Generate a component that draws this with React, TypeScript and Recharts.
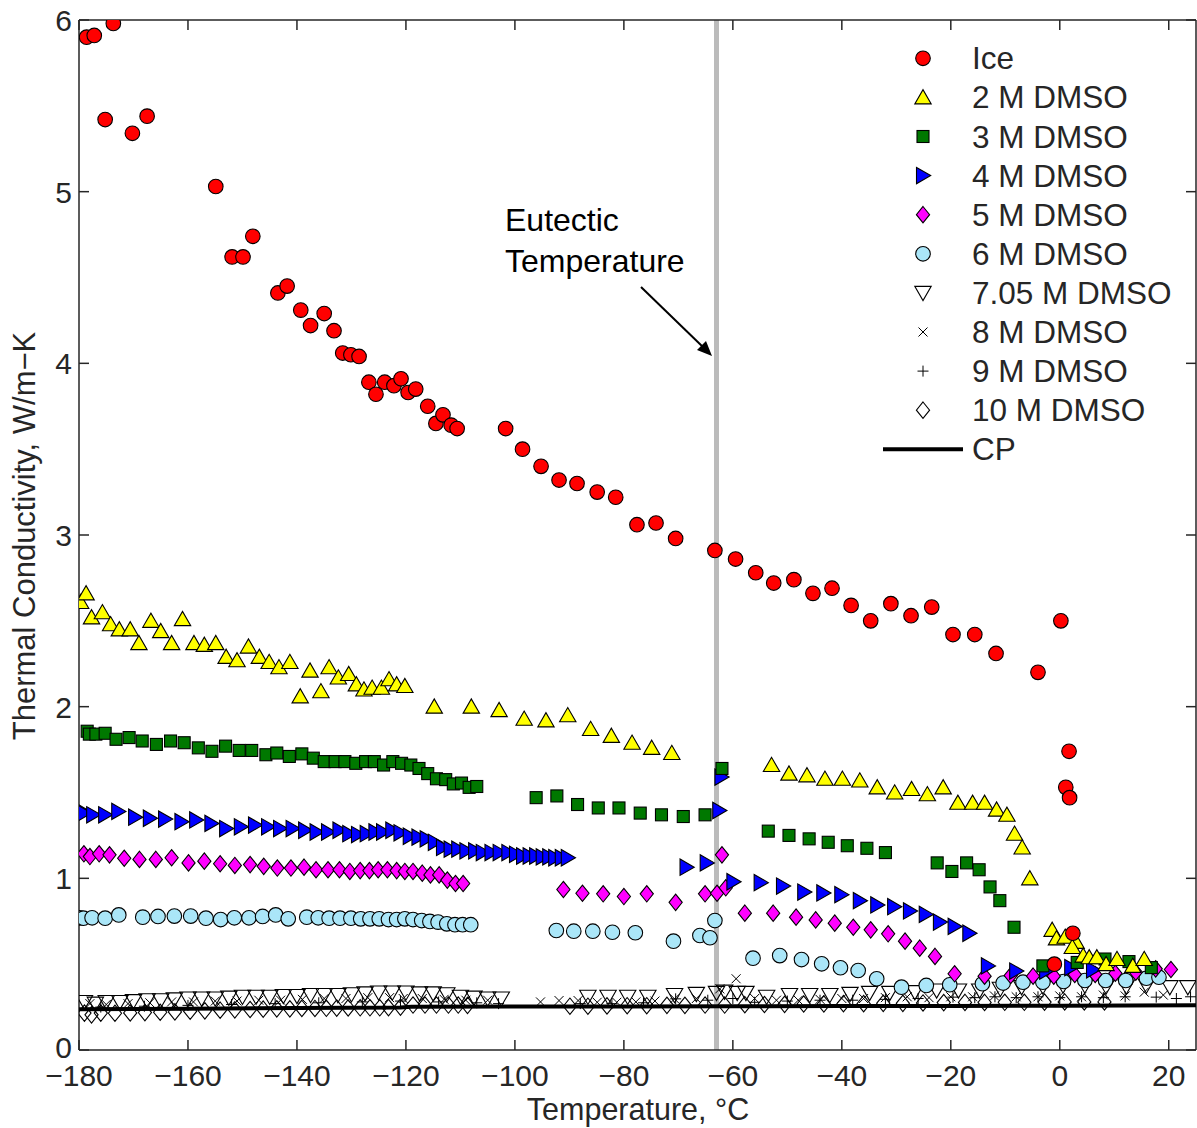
import React from 'react';
import { ScatterChart, Scatter, XAxis, YAxis, ReferenceLine } from 'recharts';

const FONT = '"Liberation Sans", Arial, Helvetica, sans-serif';
const TXT = '#262626';

// ---------- data ----------
const iceT = [-178.6, -177.2, -173.7, -175.2, -170.2, -167.5, -154.9, -151.9, -149.9, -148.1, -143.5, -141.8, -139.3, -137.5, -135.0, -133.2, -131.6, -130.1, -128.6, -126.8, -125.5, -123.9, -122.2, -120.9, -119.6, -118.2, -116.0, -114.5, -113.2, -111.7, -110.6, -101.7, -98.6, -95.2, -91.9, -88.6, -84.9, -81.5, -77.6, -74.1, -70.5, -63.3, -59.5, -55.8, -52.5, -48.8, -45.3, -41.8, -38.3, -34.7, -31.0, -27.3, -23.5, -19.6, -15.6, -11.7, -4.0, 0.2, 1.7, 1.1, 1.8, 2.4, -1.0];
const iceK = [5.90, 5.91, 5.98, 5.42, 5.34, 5.44, 5.03, 4.62, 4.62, 4.74, 4.41, 4.45, 4.31, 4.22, 4.29, 4.19, 4.06, 4.05, 4.04, 3.89, 3.82, 3.89, 3.87, 3.91, 3.83, 3.85, 3.75, 3.65, 3.70, 3.64, 3.62, 3.62, 3.50, 3.40, 3.32, 3.30, 3.25, 3.22, 3.06, 3.07, 2.98, 2.91, 2.86, 2.78, 2.72, 2.74, 2.66, 2.69, 2.59, 2.50, 2.60, 2.53, 2.58, 2.42, 2.42, 2.31, 2.20, 2.50, 1.74, 1.53, 1.47, 0.68, 0.50];

const m2T = [-179.7, -178.7, -177.7, -175.7, -174.2, -172.6, -170.6, -169.0, -166.8, -165.0, -163.0, -161.0, -158.9, -157.0, -154.9, -153.0, -151.0, -148.9, -146.9, -145.1, -143.3, -141.3, -139.4, -137.6, -135.6, -134.1, -132.4, -130.5, -129.1, -127.7, -126.2, -124.5, -123.1, -121.7, -120.2, -114.8, -108.0, -102.9, -98.3, -94.3, -90.3, -86.1, -82.3, -78.5, -74.9, -71.2, -52.9, -49.7, -46.4, -43.1, -39.9, -36.7, -33.5, -30.3, -27.2, -24.3, -21.4, -18.7, -16.0, -13.8, -11.6, -9.7, -8.3, -6.9, -5.5, -1.4, -0.6, 1.0, 3.0, 2.3, 4.3, 5.4, 6.8, 8.5, 10.5, 13.4, 15.5];
const m2K = [2.61, 2.66, 2.52, 2.55, 2.48, 2.45, 2.45, 2.37, 2.50, 2.44, 2.37, 2.51, 2.37, 2.36, 2.37, 2.29, 2.27, 2.35, 2.29, 2.26, 2.23, 2.26, 2.06, 2.21, 2.09, 2.23, 2.17, 2.19, 2.13, 2.10, 2.11, 2.11, 2.16, 2.13, 2.12, 2.00, 2.00, 1.98, 1.93, 1.92, 1.95, 1.87, 1.83, 1.79, 1.76, 1.73, 1.66, 1.61, 1.60, 1.58, 1.58, 1.57, 1.53, 1.50, 1.52, 1.49, 1.53, 1.44, 1.44, 1.44, 1.40, 1.37, 1.26, 1.18, 1.00, 0.70, 0.65, 0.66, 0.63, 0.60, 0.55, 0.54, 0.54, 0.50, 0.53, 0.49, 0.53];

const m3T = [-178.5, -178.1, -176.9, -175.2, -173.2, -170.8, -168.4, -165.8, -163.2, -160.7, -158.1, -155.6, -153.1, -150.6, -148.3, -145.7, -143.7, -141.4, -139.1, -137.0, -135.0, -133.0, -131.2, -129.2, -127.4, -125.8, -124.1, -122.4, -120.8, -119.1, -117.6, -116.0, -114.4, -112.7, -111.3, -109.8, -108.4, -107.0, -96.1, -92.3, -88.5, -84.7, -80.9, -77.0, -73.1, -69.1, -65.1, -62.0, -53.5, -49.7, -46.0, -42.5, -39.0, -35.4, -32.0, -22.5, -19.8, -17.1, -14.8, -12.8, -11.0, -8.4, -3.1, 3.2, 8.3, 12.7, 16.8];
const m3K = [1.857, 1.84, 1.84, 1.845, 1.81, 1.82, 1.80, 1.78, 1.80, 1.79, 1.76, 1.74, 1.77, 1.745, 1.745, 1.72, 1.73, 1.71, 1.725, 1.70, 1.68, 1.68, 1.68, 1.67, 1.68, 1.68, 1.66, 1.68, 1.67, 1.66, 1.64, 1.61, 1.58, 1.575, 1.55, 1.555, 1.53, 1.535, 1.47, 1.48, 1.43, 1.41, 1.41, 1.38, 1.37, 1.36, 1.37, 1.64, 1.275, 1.25, 1.23, 1.21, 1.19, 1.175, 1.15, 1.09, 1.04, 1.09, 1.05, 0.95, 0.87, 0.715, 0.49, 0.51, 0.53, 0.515, 0.48];

const m4T = [-179.9, -179.1, -177.4, -175.2, -172.8, -169.7, -167.0, -164.2, -161.2, -158.5, -155.7, -153.0, -150.3, -147.7, -145.3, -143.1, -140.8, -138.5, -136.4, -134.3, -132.2, -130.4, -128.8, -127.2, -125.6, -124.2, -122.5, -121.0, -119.3, -117.7, -116.2, -114.7, -113.2, -111.8, -110.4, -108.9, -107.3, -105.9, -104.3, -102.8, -101.2, -99.8, -98.5, -97.3, -96.1, -94.9, -93.7, -92.6, -91.4, -90.3, -68.5, -64.8, -62.5, -62.1, -59.9, -54.9, -50.8, -46.9, -43.4, -40.1, -36.7, -33.5, -30.4, -27.5, -24.6, -22.0, -19.3, -16.6, -13.2, -8.0, -2.5, 2.1, 6.1];
const m4K = [1.40, 1.38, 1.37, 1.37, 1.39, 1.356, 1.35, 1.345, 1.33, 1.34, 1.32, 1.29, 1.30, 1.31, 1.30, 1.29, 1.29, 1.28, 1.27, 1.27, 1.28, 1.26, 1.255, 1.26, 1.27, 1.27, 1.28, 1.265, 1.245, 1.24, 1.23, 1.21, 1.18, 1.17, 1.17, 1.16, 1.16, 1.15, 1.15, 1.15, 1.15, 1.14, 1.13, 1.13, 1.13, 1.125, 1.125, 1.12, 1.12, 1.12, 1.065, 1.09, 1.395, 1.59, 0.98, 0.975, 0.955, 0.92, 0.915, 0.905, 0.87, 0.845, 0.835, 0.81, 0.79, 0.745, 0.72, 0.68, 0.49, 0.46, 0.46, 0.48, 0.467];

const m5T = [-179.1, -178.0, -176.3, -174.4, -171.7, -168.9, -165.9, -163.0, -159.9, -157.0, -154.1, -151.4, -148.6, -146.1, -143.6, -141.1, -138.7, -136.5, -134.3, -132.2, -130.3, -128.4, -126.7, -125.1, -123.4, -121.7, -120.2, -118.7, -117.0, -115.5, -113.9, -112.4, -110.9, -109.5, -91.1, -87.6, -83.8, -80.0, -75.8, -70.5, -65.1, -62.9, -61.3, -62.0, -57.8, -52.6, -48.4, -44.8, -41.3, -37.9, -34.7, -31.5, -28.4, -25.7, -22.9, -19.3, -13.8, -9.0, -4.9, -1.1, 2.75, 6.5, 10.2, 13.95, 17.6, 20.4];
const m5K = [1.143, 1.127, 1.143, 1.137, 1.117, 1.11, 1.11, 1.12, 1.09, 1.10, 1.085, 1.075, 1.08, 1.07, 1.06, 1.06, 1.065, 1.05, 1.05, 1.05, 1.04, 1.045, 1.045, 1.05, 1.05, 1.045, 1.04, 1.04, 1.03, 1.02, 1.02, 0.99, 0.97, 0.97, 0.935, 0.913, 0.91, 0.894, 0.91, 0.86, 0.91, 0.913, 0.945, 1.137, 0.797, 0.797, 0.774, 0.758, 0.739, 0.715, 0.70, 0.677, 0.634, 0.593, 0.545, 0.444, 0.43, 0.434, 0.43, 0.43, 0.44, 0.44, 0.447, 0.453, 0.473, 0.469];

const m6T = [-179.9, -179.2, -177.6, -175.2, -172.7, -168.3, -165.5, -162.5, -159.5, -156.7, -154.0, -151.5, -148.8, -146.3, -143.9, -141.6, -138.2, -136.1, -134.1, -132.1, -130.1, -128.3, -126.6, -124.9, -123.2, -121.7, -120.2, -118.7, -117.1, -115.6, -114.1, -112.5, -111.0, -109.6, -108.1, -92.4, -89.2, -85.7, -82.1, -77.9, -70.9, -66.05, -64.2, -63.3, -56.3, -51.4, -47.4, -43.7, -40.25, -37.0, -33.6, -29.05, -24.5, -20.2, -14.2, -10.4, -6.75, -3.1, 0.7, 4.6, 8.4, 12.1, 15.9, 18.2];
const m6K = [0.77, 0.768, 0.77, 0.768, 0.787, 0.774, 0.778, 0.78, 0.78, 0.768, 0.76, 0.77, 0.77, 0.778, 0.787, 0.764, 0.774, 0.77, 0.768, 0.768, 0.768, 0.764, 0.764, 0.764, 0.76, 0.76, 0.764, 0.76, 0.754, 0.749, 0.745, 0.735, 0.73, 0.73, 0.73, 0.696, 0.692, 0.692, 0.686, 0.683, 0.634, 0.667, 0.654, 0.754, 0.535, 0.55, 0.527, 0.502, 0.479, 0.463, 0.415, 0.366, 0.376, 0.38, 0.386, 0.39, 0.395, 0.395, 0.399, 0.405, 0.405, 0.405, 0.418, 0.424];

const m705T = [-179, -177, -175, -172.5, -170, -167.5, -165, -162.5, -160, -157.5, -155, -152.5, -150, -147.5, -145, -142.5, -140, -137.5, -135, -132.5, -130, -127.5, -125, -122.5, -120, -117.5, -115, -112.5, -110, -107.5, -105, -102.5, -86.6, -82.9, -79.3, -75.6, -70.7, -66.7, -63.0, -61.5, -59.2, -57.6, -53.8, -49.6, -45.9, -42.2, -38.5, -34.9, -31.2, -26.6, -22.6, -18.6, -14.7, -10.9, -7.0, -3.1, 0.6, 4.6, 8.5, 12.2, 15.9, 20.2, 23.5];
const m705K = [0.28, 0.27, 0.28, 0.28, 0.285, 0.29, 0.29, 0.295, 0.30, 0.30, 0.30, 0.305, 0.31, 0.31, 0.31, 0.315, 0.315, 0.32, 0.32, 0.32, 0.325, 0.33, 0.335, 0.335, 0.335, 0.33, 0.33, 0.325, 0.31, 0.305, 0.30, 0.30, 0.31, 0.31, 0.31, 0.31, 0.32, 0.327, 0.333, 0.34, 0.333, 0.333, 0.31, 0.32, 0.32, 0.32, 0.327, 0.333, 0.333, 0.337, 0.347, 0.347, 0.347, 0.357, 0.366, 0.37, 0.376, 0.376, 0.37, 0.37, 0.376, 0.366, 0.366];

const m8T = [-178, -175, -171, -167, -163, -159, -155, -151, -147, -143, -139, -135, -131, -127, -123, -120.5, -117, -113, -109, -105, -95.3, -91.9, -88.4, -84.9, -81.3, -77.8, -74.3, -70.7, -66.7, -62.4, -59.4, -56, -52, -48, -44, -40, -36, -32, -28, -24, -20, -16, -12, -8, -4, 0, 4, 8, 12, 15.5, 19];
const m8K = [0.27, 0.265, 0.27, 0.275, 0.28, 0.28, 0.285, 0.285, 0.29, 0.29, 0.295, 0.30, 0.30, 0.305, 0.305, 0.30, 0.30, 0.295, 0.29, 0.29, 0.28, 0.288, 0.288, 0.278, 0.278, 0.28, 0.285, 0.298, 0.30, 0.356, 0.415, 0.30, 0.29, 0.29, 0.295, 0.30, 0.30, 0.305, 0.31, 0.305, 0.31, 0.31, 0.315, 0.31, 0.31, 0.315, 0.31, 0.32, 0.315, 0.337, 0.32];

const m9T = [-176, -168, -160, -152, -144, -136, -128, -121, -114, -107, -103, -88, -82.2, -76.4, -70.5, -64.6, -60, -56, -50, -44, -38, -32, -26, -19.6, -15.6, -11.9, -8, -4, 0, 4, 8, 12, 17.7, 21.4, 24];
const m9K = [0.25, 0.255, 0.26, 0.265, 0.27, 0.275, 0.28, 0.285, 0.28, 0.275, 0.27, 0.27, 0.27, 0.275, 0.298, 0.29, 0.30, 0.278, 0.285, 0.29, 0.29, 0.295, 0.30, 0.308, 0.305, 0.31, 0.305, 0.31, 0.305, 0.31, 0.305, 0.31, 0.308, 0.30, 0.31];

const m10T = [-179, -177.7, -176, -173.4, -170.6, -167.9, -165.1, -162.4, -159.6, -156.9, -154.1, -151.4, -148.6, -146.2, -143.7, -141.3, -139.1, -136.7, -134.6, -132.7, -130.6, -128.4, -126.6, -124.8, -123.2, -121.0, -118.7, -116.5, -114.4, -112.2, -110.4, -108.7, -89.9, -86.6, -83.1, -79.4, -75.8, -72.1, -68.8, -65.1, -61.5, -57.8, -54.2, -50.5, -47.0, -43.3, -39.7, -36.0, -32.4, -28.8, -25.1, -21.3, -17.4, -13.8, -10.1, -6.5, -2.8, 0.9, 4.5, 8.2];
const m10K = [0.215, 0.205, 0.215, 0.214, 0.216, 0.218, 0.22, 0.222, 0.226, 0.228, 0.232, 0.234, 0.236, 0.238, 0.24, 0.24, 0.242, 0.242, 0.243, 0.244, 0.245, 0.246, 0.246, 0.246, 0.247, 0.25, 0.262, 0.262, 0.262, 0.262, 0.262, 0.26, 0.255, 0.255, 0.257, 0.258, 0.258, 0.26, 0.26, 0.262, 0.262, 0.264, 0.265, 0.266, 0.268, 0.268, 0.27, 0.27, 0.272, 0.272, 0.274, 0.276, 0.277, 0.277, 0.278, 0.278, 0.279, 0.28, 0.28, 0.28];

const cpT = [-180, -160, -140, -121, -119, -100, -80, -60, -40, -20, 0, 25];
const cpK = [0.238, 0.241, 0.244, 0.247, 0.252, 0.253, 0.254, 0.255, 0.256, 0.257, 0.258, 0.26];

const xTicks = [-180, -160, -140, -120, -100, -80, -60, -40, -20, 0, 20];
const yTicks = [0, 1, 2, 3, 4, 5, 6];
const eutecticT = -63;

const zip = (xs: number[], ys: number[]) => xs.map((x, i) => ({ x, y: ys[i] }));

type Kind = 'circle' | 'triUp' | 'square' | 'triRight' | 'diamond' | 'triDown' | 'cross' | 'plus' | 'line';

const series: { name: string; kind: Kind; fill: string; data: { x: number; y: number }[] }[] = [
  { name: 'Ice', kind: 'circle', fill: '#FF0000', data: zip(iceT, iceK) },
  { name: '2 M DMSO', kind: 'triUp', fill: '#FFFF00', data: zip(m2T, m2K) },
  { name: '3 M DMSO', kind: 'square', fill: '#007800', data: zip(m3T, m3K) },
  { name: '4 M DMSO', kind: 'triRight', fill: '#0000FF', data: zip(m4T, m4K) },
  { name: '5 M DMSO', kind: 'diamond', fill: '#FF00FF', data: zip(m5T, m5K) },
  { name: '6 M DMSO', kind: 'circle', fill: '#AAE6F8', data: zip(m6T, m6K) },
  { name: '7.05 M DMSO', kind: 'triDown', fill: 'none', data: zip(m705T, m705K) },
  { name: '8 M DMSO', kind: 'cross', fill: 'none', data: zip(m8T, m8K) },
  { name: '9 M DMSO', kind: 'plus', fill: 'none', data: zip(m9T, m9K) },
  { name: '10 M DMSO', kind: 'diamond', fill: 'none', data: zip(m10T, m10K) },
];
const cpData = zip(cpT, cpK);

const fmt = (v: number) => (v < 0 ? '\u2212' + Math.abs(v) : String(v));

function Marker({ kind, cx, cy, fill }: { kind: Kind; cx: number; cy: number; fill: string }) {
  if (cx == null || cy == null || isNaN(cx) || isNaN(cy)) return <g />;
  const s = { fill, stroke: '#000', strokeWidth: 1.1 };
  switch (kind) {
    case 'circle':
      return <circle cx={cx} cy={cy} r={7.3} {...s} />;
    case 'triUp':
      return <polygon points={`${cx - 8.2},${cy + 6.5} ${cx + 8.2},${cy + 6.5} ${cx},${cy - 7.7}`} {...s} />;
    case 'square':
      return <rect x={cx - 6} y={cy - 6} width={12} height={12} {...s} />;
    case 'triRight':
      return <polygon points={`${cx - 6.5},${cy - 8.2} ${cx - 6.5},${cy + 8.2} ${cx + 7.7},${cy}`} {...s} />;
    case 'diamond':
      return <polygon points={`${cx},${cy - 8.2} ${cx + 6.6},${cy} ${cx},${cy + 8.2} ${cx - 6.6},${cy}`} {...s} />;
    case 'triDown':
      return <polygon points={`${cx - 8.2},${cy - 6.5} ${cx + 8.2},${cy - 6.5} ${cx},${cy + 7.7}`} {...s} />;
    case 'cross':
      return (
        <g stroke="#000" strokeWidth={1}>
          <line x1={cx - 4.5} y1={cy - 4.5} x2={cx + 4.5} y2={cy + 4.5} />
          <line x1={cx - 4.5} y1={cy + 4.5} x2={cx + 4.5} y2={cy - 4.5} />
        </g>
      );
    case 'plus':
      return (
        <g stroke="#000" strokeWidth={1}>
          <line x1={cx - 5.5} y1={cy} x2={cx + 5.5} y2={cy} />
          <line x1={cx} y1={cy - 5.5} x2={cx} y2={cy + 5.5} />
        </g>
      );
    default:
      return <g />;
  }
}

const BottomTick = (p: any) => (
  <g>
    <line x1={p.x} y1={p.y} x2={p.x} y2={p.y - 10} stroke={TXT} strokeWidth={1.5} />
    <text x={p.x} y={p.y + 36} textAnchor="middle" fill={TXT} fontSize={30} fontFamily={FONT}>
      {fmt(p.payload.value)}
    </text>
  </g>
);
const TopTick = (p: any) => (
  <line x1={p.x} y1={p.y} x2={p.x} y2={p.y + 10} stroke={TXT} strokeWidth={1.5} />
);
const LeftTick = (p: any) => (
  <g>
    <line x1={p.x} y1={p.y} x2={p.x + 10} y2={p.y} stroke={TXT} strokeWidth={1.5} />
    <text x={p.x - 7} y={p.y + (p.payload.value === 0 ? 8 : 11)} textAnchor="end" fill={TXT} fontSize={30} fontFamily={FONT}>
      {fmt(p.payload.value)}
    </text>
  </g>
);
const RightTick = (p: any) => (
  <line x1={p.x} y1={p.y} x2={p.x - 10} y2={p.y} stroke={TXT} strokeWidth={1.5} />
);

const W = 1197;
const H = 1128;

export default function App() {
  const axisLine = { stroke: TXT, strokeWidth: 1.5 };
  const legendRows = [...series.map((s) => ({ name: s.name, kind: s.kind as Kind, fill: s.fill })), { name: 'CP', kind: 'line' as Kind, fill: '#000' }];
  return (
    <div style={{ position: 'absolute', left: 0, top: 0, width: W, height: H, background: '#fff' }}>
      <ScatterChart width={W} height={H} margin={{ top: 0, right: 0, bottom: 0, left: 0 }}>
        <XAxis
          xAxisId={0}
          type="number"
          dataKey="x"
          domain={[-180, 25]}
          ticks={xTicks}
          interval={0}
          allowDataOverflow
          height={78}
          tickSize={0}
          tickMargin={0}
          tickLine={false}
          axisLine={axisLine}
          tick={(p: any) => <BottomTick {...p} />}
        />
        <XAxis
          xAxisId="top"
          orientation="top"
          type="number"
          dataKey="x"
          domain={[-180, 25]}
          ticks={xTicks}
          interval={0}
          allowDataOverflow
          height={20}
          tickSize={0}
          tickMargin={0}
          tickLine={false}
          axisLine={axisLine}
          tick={(p: any) => <TopTick {...p} />}
        />
        <YAxis
          yAxisId={0}
          type="number"
          dataKey="y"
          domain={[0, 6]}
          ticks={yTicks}
          interval={0}
          allowDataOverflow
          width={79}
          tickSize={0}
          tickMargin={0}
          tickLine={false}
          axisLine={axisLine}
          tick={(p: any) => <LeftTick {...p} />}
        />
        <YAxis
          yAxisId="right"
          orientation="right"
          type="number"
          dataKey="y"
          domain={[0, 6]}
          ticks={yTicks}
          interval={0}
          allowDataOverflow
          width={1}
          tickSize={0}
          tickMargin={0}
          tickLine={false}
          axisLine={axisLine}
          tick={(p: any) => <RightTick {...p} />}
        />
        <ReferenceLine x={eutecticT} xAxisId={0} yAxisId={0} stroke="#BBBBBB" strokeWidth={5} />
        <Scatter
          name="CP"
          data={cpData}
          xAxisId={0}
          yAxisId={0}
          line={{ stroke: '#000', strokeWidth: 4 }}
          shape={() => <g />}
          isAnimationActive={false}
        />
        {series
          .slice()
          .reverse()
          .map((s) => (
            <Scatter
              key={s.name}
              name={s.name}
              data={s.data}
              xAxisId={0}
              yAxisId={0}
              isAnimationActive={false}
              shape={(p: any) => <Marker kind={s.kind} cx={p.cx} cy={p.cy} fill={s.fill} />}
            />
          ))}
      </ScatterChart>
      <svg width={W} height={H} style={{ position: 'absolute', left: 0, top: 0, pointerEvents: 'none' }}>
        <text x={638} y={1120} textAnchor="middle" fill={TXT} fontSize={30.5} fontFamily={FONT}>
          Temperature, °C
        </text>
        <text
          x={35}
          y={536}
          textAnchor="middle"
          fill={TXT}
          fontSize={31}
          fontFamily={FONT}
          transform="rotate(-90 35 536)"
        >
          Thermal Conductivity, W/m{'\u2212'}K
        </text>
        <text x={505} y={231} fill="#000" fontSize={32} fontFamily={FONT}>Eutectic</text>
        <text x={505} y={272} fill="#000" fontSize={32} fontFamily={FONT}>Temperature</text>
        <line x1={641} y1={287} x2={704} y2={348} stroke="#000" strokeWidth={2} />
        <polygon points="712,356 697,350 706,341" fill="#000" />
        {legendRows.map((r, i) => {
          const cy = 58.3 + i * 39.1;
          return (
            <g key={r.name}>
              {r.kind === 'line' ? (
                <line x1={883} y1={cy} x2={963} y2={cy} stroke="#000" strokeWidth={4} />
              ) : (
                <Marker kind={r.kind} cx={923} cy={cy} fill={r.fill} />
              )}
              <text x={972} y={cy + 11} fill={TXT} fontSize={31.5} fontFamily={FONT}>
                {r.name}
              </text>
            </g>
          );
        })}
      </svg>
    </div>
  );
}
